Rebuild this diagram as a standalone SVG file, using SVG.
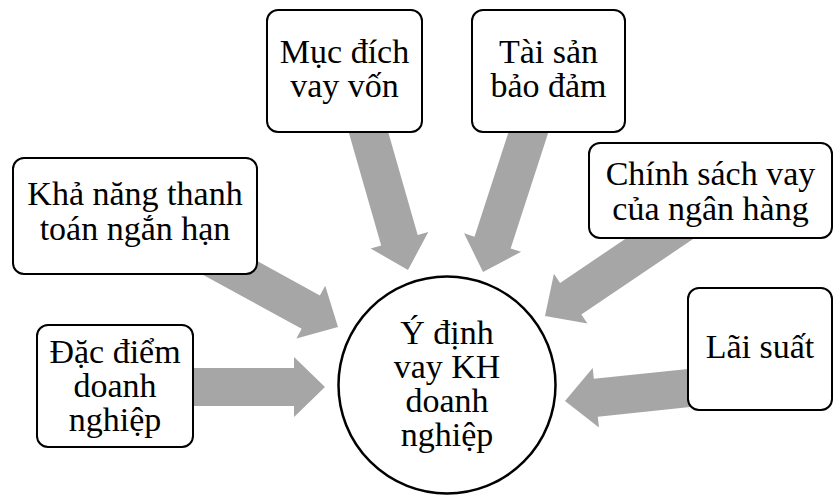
<svg xmlns="http://www.w3.org/2000/svg" width="834" height="495" viewBox="0 0 834 495">
  <rect width="834" height="495" fill="#ffffff"/>
  <!-- block arrows: tip at the origin, pointing along +x, then placed and rotated -->
  <g id="connectors" fill="#a6a6a6">
    <path transform="translate(325,387) rotate(0)" d="M0 0 L-31 -30 L-31 -19 L-140 -19 L-140 19 L-31 19 L-31 30 Z"/>
    <path transform="translate(338,327) rotate(28.7)" d="M0 0 L-31 -30 L-31 -19 L-150 -19 L-150 19 L-31 19 L-31 30 Z"/>
    <path transform="translate(408,270) rotate(74)" d="M0 0 L-31 -30 L-31 -19 L-160 -19 L-160 19 L-31 19 L-31 30 Z"/>
    <path transform="translate(483,272) rotate(108)" d="M0 0 L-31 -30 L-31 -19 L-160 -19 L-160 19 L-31 19 L-31 30 Z"/>
    <path transform="translate(545,316) rotate(146)" d="M0 0 L-31 -30 L-31 -19 L-180 -19 L-180 19 L-31 19 L-31 30 Z"/>
    <path transform="translate(565,401) rotate(174)" d="M0 0 L-31 -30 L-31 -19 L-150 -19 L-150 19 L-31 19 L-31 30 Z"/>
  </g>

  <g id="muc-dich">
    <rect x="267" y="10" width="155" height="122" rx="11" fill="#ffffff" stroke="#000000" stroke-width="2"/>
    <text x="344.5" y="63" font-size="34" font-family="Liberation Serif, Tinos, Times New Roman, serif" text-anchor="middle">Mục đích</text>
    <text x="344.5" y="97" font-size="34" font-family="Liberation Serif, Tinos, Times New Roman, serif" text-anchor="middle">vay vốn</text>
  </g>

  <g id="tai-san">
    <rect x="472" y="10" width="153" height="122" rx="11" fill="#ffffff" stroke="#000000" stroke-width="2"/>
    <text x="548.5" y="63" font-size="34" font-family="Liberation Serif, Tinos, Times New Roman, serif" text-anchor="middle">Tài sản</text>
    <text x="548.5" y="97" font-size="34" font-family="Liberation Serif, Tinos, Times New Roman, serif" text-anchor="middle">bảo đảm</text>
  </g>

  <g id="chinh-sach">
    <rect x="589" y="143" width="243" height="95" rx="11" fill="#ffffff" stroke="#000000" stroke-width="2"/>
    <text x="710.5" y="185" font-size="34" font-family="Liberation Serif, Tinos, Times New Roman, serif" text-anchor="middle">Chính sách vay</text>
    <text x="710.5" y="220" font-size="34" font-family="Liberation Serif, Tinos, Times New Roman, serif" text-anchor="middle">của ngân hàng</text>
  </g>

  <g id="kha-nang">
    <rect x="13" y="158" width="244" height="116" rx="11" fill="#ffffff" stroke="#000000" stroke-width="2"/>
    <text x="135" y="205" font-size="34" font-family="Liberation Serif, Tinos, Times New Roman, serif" text-anchor="middle">Khả năng thanh</text>
    <text x="135" y="240" font-size="34" font-family="Liberation Serif, Tinos, Times New Roman, serif" text-anchor="middle">toán ngắn hạn</text>
  </g>

  <g id="dac-diem">
    <rect x="37" y="325" width="156" height="122" rx="11" fill="#ffffff" stroke="#000000" stroke-width="2"/>
    <text x="115" y="363" font-size="34" font-family="Liberation Serif, Tinos, Times New Roman, serif" text-anchor="middle">Đặc điểm</text>
    <text x="115" y="397" font-size="34" font-family="Liberation Serif, Tinos, Times New Roman, serif" text-anchor="middle">doanh</text>
    <text x="115" y="431" font-size="34" font-family="Liberation Serif, Tinos, Times New Roman, serif" text-anchor="middle">nghiệp</text>
  </g>

  <g id="lai-suat">
    <rect x="688" y="288" width="144" height="122" rx="11" fill="#ffffff" stroke="#000000" stroke-width="2"/>
    <text x="760" y="358" font-size="34" font-family="Liberation Serif, Tinos, Times New Roman, serif" text-anchor="middle">Lãi suất</text>
  </g>

  <g id="y-dinh">
    <circle cx="447" cy="385" r="108.5" fill="#ffffff" stroke="#000000" stroke-width="2.5"/>
    <text x="447" y="344" font-size="34" font-family="Liberation Serif, Tinos, Times New Roman, serif" text-anchor="middle">Ý định</text>
    <text x="447" y="378" font-size="34" font-family="Liberation Serif, Tinos, Times New Roman, serif" text-anchor="middle">vay KH</text>
    <text x="447" y="412" font-size="34" font-family="Liberation Serif, Tinos, Times New Roman, serif" text-anchor="middle">doanh</text>
    <text x="447" y="446" font-size="34" font-family="Liberation Serif, Tinos, Times New Roman, serif" text-anchor="middle">nghiệp</text>
  </g>
</svg>
